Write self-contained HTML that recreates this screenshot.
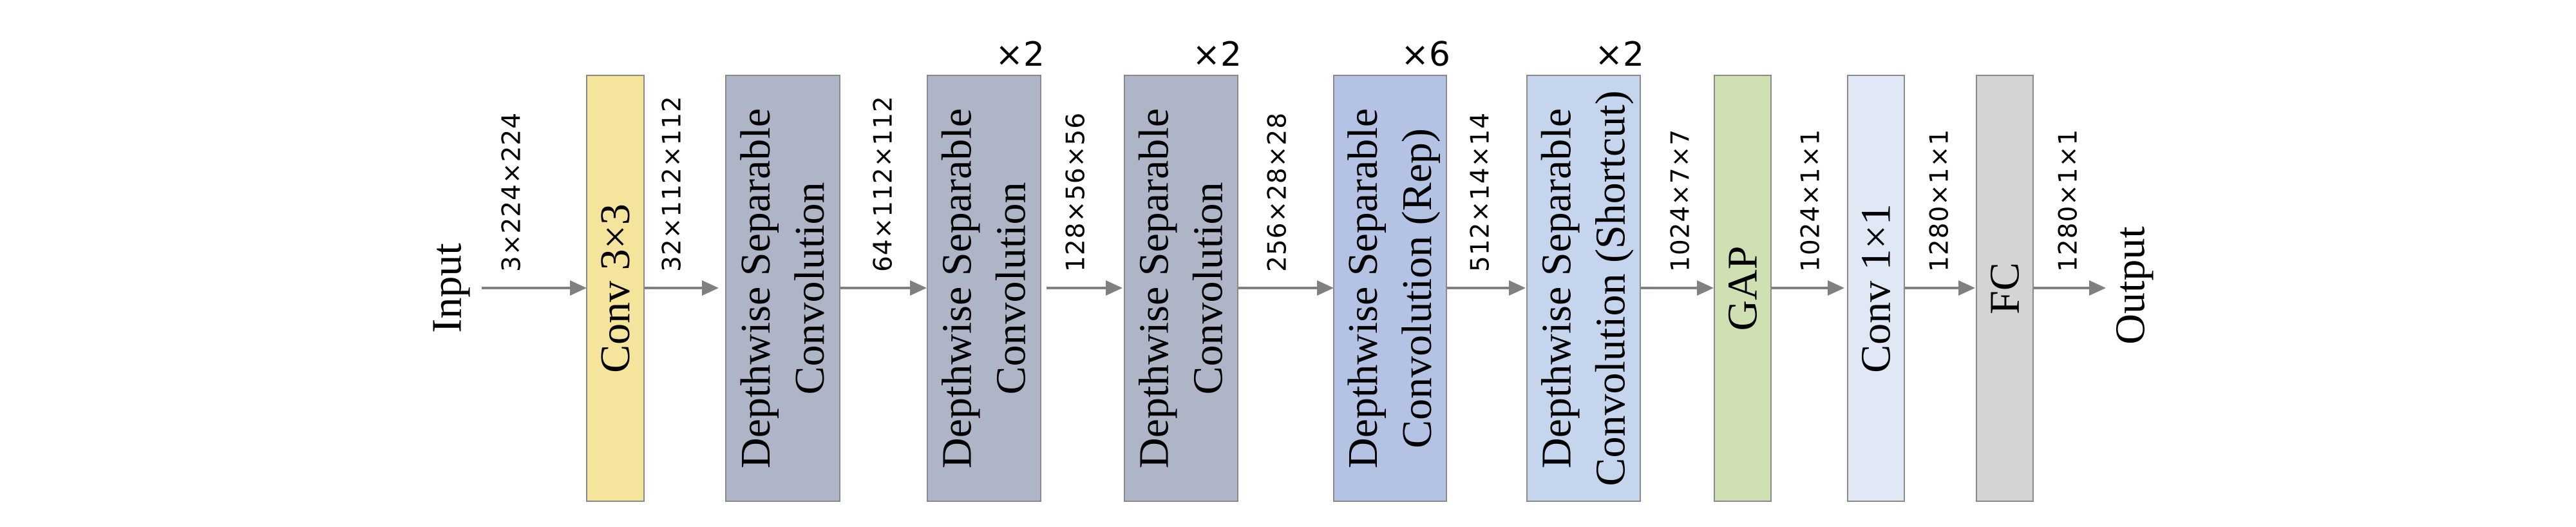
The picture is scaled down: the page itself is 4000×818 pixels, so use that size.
<!DOCTYPE html>
<html><head><meta charset="utf-8"><style>
html,body{margin:0;padding:0;background:#fff;}
svg{display:block;}
</style></head><body>
<svg id="chart" width="4000" height="818" viewBox="0 0 4000 818" xmlns="http://www.w3.org/2000/svg">
</svg>
<script>
const blockLines=[["Conv 3×3"],["Depthwise Separable","Convolution"],["Depthwise Separable","Convolution"],["Depthwise Separable","Convolution"],["Depthwise Separable","Convolution (Rep)"],["Depthwise Separable","Convolution (Shortcut)"],["GAP"],["Conv 1×1"],["FC"]];
const blockColors=["#f5e49b","#adb5c6","#adb5c6","#adb5c6","#b4c3e3","#c5d5ed","#cfe0b3","#e0e7f5","#d4d4d4"];
const blockLeft=[911,1127,1440,1746,2071,2371,2662,2869,3069];
const blockRight=[1000,1304,1616,1922,2246,2547,2750,2957,3157];
const repeats=["","","×2","×2","×6","×2","","",""];
const dimLabels=["3×224×224","32×112×112","64×112×112","128×56×56","256×28×28","512×14×14","1024×7×7","1024×1×1","1280×1×1","1280×1×1"];
const arrowStart=[748,1000,1304,1625,1922,2246,2547,2750,2957,3157];
const arrowEnd=[911,1116,1439,1743,2071,2369,2661,2864,3067,3270];
const dimX=[795,1044,1372,1671,1984,2299,2610,2812,3012,3212];
const NS="http://www.w3.org/2000/svg";
const svg=document.getElementById('chart');
function mk(tag,attrs){const e=document.createElementNS(NS,tag);for(const k in attrs)e.setAttribute(k,attrs[k]);svg.appendChild(e);return e;}
const TOP=117,BOT=778,AY=447;
const serif='"Liberation Serif", "DejaVu Serif", serif';
const sans='"DejaVu Sans", "Liberation Sans", sans-serif';
for(let i=0;i<arrowStart.length;i++){
  const l=mk('line',{x1:arrowStart[i],y1:AY,x2:arrowEnd[i]-24,y2:AY,stroke:'#808080','stroke-width':4});
  
  
  const h=mk('polygon',{points:(arrowEnd[i]-26)+','+(AY-12)+' '+arrowEnd[i]+','+AY+' '+(arrowEnd[i]-26)+','+(AY+12),fill:'#808080'});
  
  
  const t=mk('text',{x:0,y:0,transform:'translate('+dimX[i]+',422) rotate(-90)','text-anchor':'start','dominant-baseline':'central','font-family':sans,'font-size':39,'letter-spacing':1,fill:'#000'});
  t.textContent=dimLabels[i];
  
  
}
for(let i=0;i<blockLines.length;i++){
  const x=blockLeft[i],w=blockRight[i]-blockLeft[i];
  const r=mk('rect',{x:x,y:TOP,width:w,height:BOT-TOP,fill:blockColors[i],stroke:'#8a8a8a','stroke-width':2});
  
  
  const cx=x+w/2,cy=(TOP+BOT)/2,n=blockLines[i].length;
  blockLines[i].forEach((s,j)=>{
    const lx=cx+(j-(n-1)/2)*84;
    const t=mk('text',{x:0,y:0,transform:'translate('+lx+','+cy+') rotate(-90)','text-anchor':'middle','dominant-baseline':'central','font-family':serif,'font-size':66,fill:'#000'});
    t.textContent=s;
    
    
  });
  if(repeats[i]){
    const t=mk('text',{x:blockRight[i]+6,y:102,'text-anchor':'end','font-family':sans,'font-size':52,fill:'#000'});
    t.textContent=repeats[i];
    
    
  }
}
const inp=mk('text',{x:0,y:0,transform:'translate(694,447) rotate(-90)','text-anchor':'middle','dominant-baseline':'central','font-family':serif,'font-size':66,fill:'#000'});
inp.textContent='Input';


const out=mk('text',{x:0,y:0,transform:'translate(3308,443) rotate(-90)','text-anchor':'middle','dominant-baseline':'central','font-family':serif,'font-size':66,fill:'#000'});
out.textContent='Output';


</script>
</body></html>
